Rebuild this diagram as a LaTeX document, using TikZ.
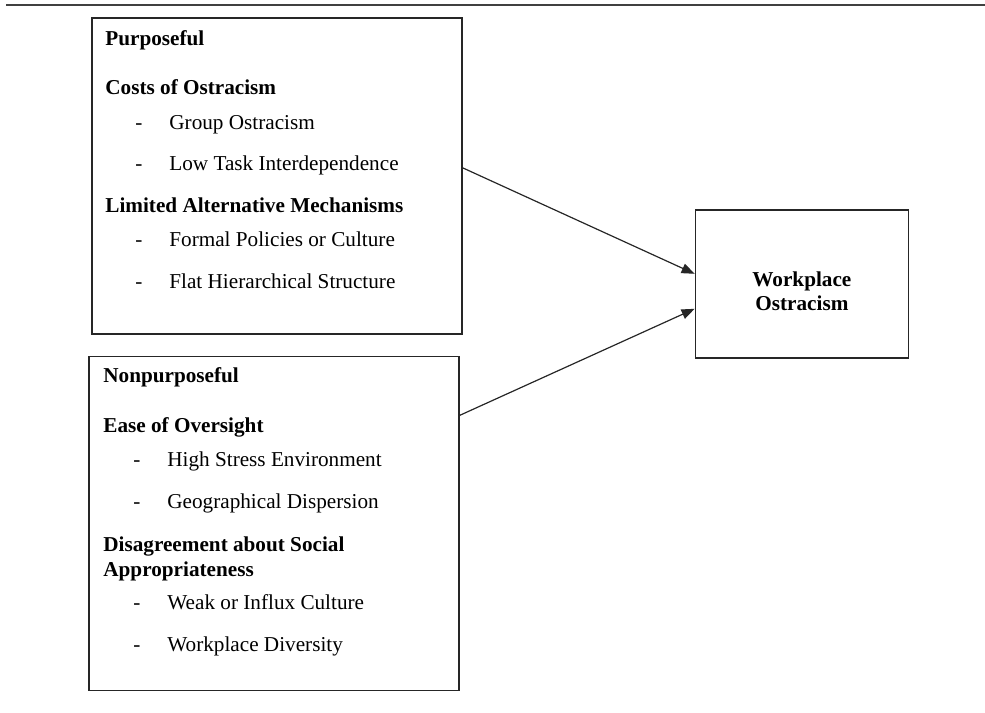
\documentclass[tikz,border=0pt]{standalone}
\usepackage{fontspec}
\setmainfont{Liberation Serif}
\usetikzlibrary{positioning, arrows.meta}

% dash-indented entry of a list
\newcommand{\dashitem}[1]{\makebox[32pt][l]{\hspace{15pt}-}#1}

\begin{document}
\begin{tikzpicture}[
    node distance=1cm,
    outer/.style={rectangle, draw=black!85, line width=0.8pt, inner sep=0pt},
    list/.style={align=left, inner sep=0pt, font=\fontsize{10.6}{12.5}\selectfont},
    outcome/.style={align=center, inner sep=0pt, font=\fontsize{10.6}{12}\selectfont\bfseries},
    arrow/.style={line width=0.6pt, draw=black!85, -{Triangle[length=6.5pt,width=5pt]}}
  ]
  \useasboundingbox (0,0) rectangle (492.5pt,-356pt);
  % rule across the top
  \draw [line width=0.8pt, black!75] (3pt,-2.5pt) -- (492.5pt,-2.5pt);

  \node (purp) [outer, minimum width=185pt, minimum height=158pt, anchor=north west] at (45.5pt,-8.5pt) {};
  \node (nonpurp) [outer, minimum width=185pt, minimum height=167pt, below=10.5pt of purp.south west, anchor=north west, xshift=-1.5pt] {};
  \node (ostr) [outer, minimum width=106.5pt, minimum height=74pt, right=116pt of purp.north east, anchor=north west, yshift=-96pt] {};
  \node (ostrtext) [outcome] at ([yshift=-3.5pt]ostr.center) {Workplace\\Ostracism};

  \node (purptext) [list, below right=6.75pt and 7pt of purp.north west] {\textbf{Purposeful}\\[12pt]
    \textbf{Costs of Ostracism}\\[5pt]
    \dashitem{Group Ostracism}\\[8pt]
    \dashitem{Low Task Interdependence}\\[8.5pt]
    \textbf{Limited Alternative Mechanisms}\\[4.5pt]
    \dashitem{Formal Policies or Culture}\\[8.5pt]
    \dashitem{Flat Hierarchical Structure}};

  \node (nonpurptext) [list, below right=5.75pt and 7.5pt of nonpurp.north west] {\textbf{Nonpurposeful}\\[12.5pt]
    \textbf{Ease of Oversight}\\[4.5pt]
    \dashitem{High Stress Environment}\\[8.5pt]
    \dashitem{Geographical Dispersion}\\[9pt]
    \textbf{Disagreement about Social}\\
    \textbf{Appropriateness}\\[4pt]
    \dashitem{Weak or Influx Culture}\\[8.5pt]
    \dashitem{Workplace Diversity}};

  \draw [arrow] ([yshift=4pt]purp.east) -- ([yshift=5pt]ostr.west);
  \draw [arrow] ([yshift=54pt]nonpurp.east) -- ([yshift=-12.5pt]ostr.west);
\end{tikzpicture}
\end{document}
